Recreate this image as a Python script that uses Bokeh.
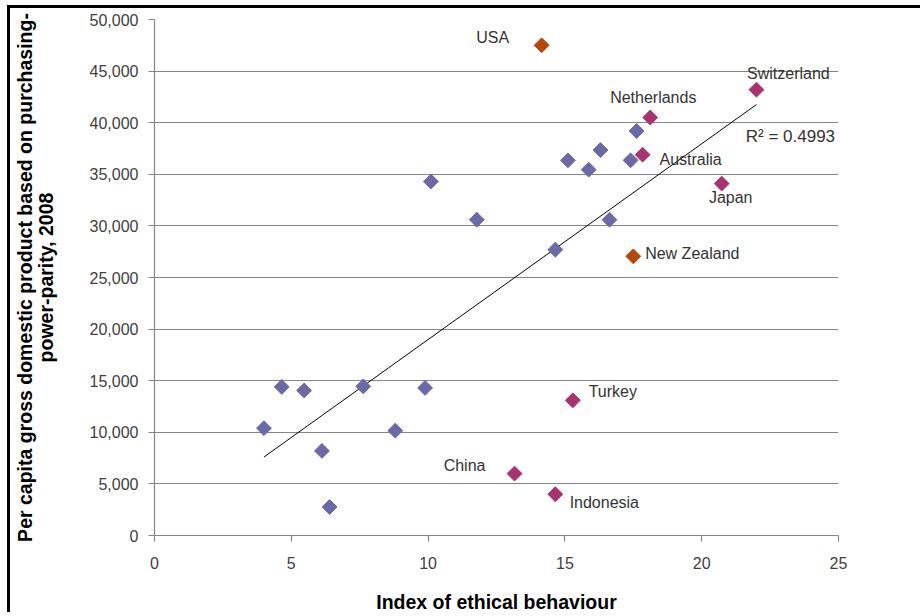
import numpy as np
from bokeh.plotting import figure
from bokeh.models import Range1d, Label, NumeralTickFormatter, FixedTicker
from bokeh.embed import file_html
from bokeh.resources import INLINE

# ---- data ----
other_x = [4.0, 4.65, 5.47, 6.12, 6.4, 7.63, 8.8, 9.89, 10.1, 11.78, 14.65, 15.11, 15.87, 16.3, 16.63, 17.4, 17.62]
other_y = [10400, 14400, 14050, 8200, 2760, 14450, 10160, 14300, 34300, 30600, 27700, 36350, 35450, 37350, 30600, 36350, 39200]

magenta_names = ["Switzerland", "Netherlands", "Australia", "Japan", "Turkey", "China", "Indonesia"]
magenta_x = [22.0, 18.12, 17.84, 20.73, 15.29, 13.16, 14.65]
magenta_y = [43200, 40500, 36900, 34100, 13100, 6000, 4000]

orange_names = ["USA", "New Zealand"]
orange_x = [14.15, 17.5]
orange_y = [47500, 27050]

x_ticks = [0, 5, 10, 15, 20, 25]
y_ticks = [0, 5000, 10000, 15000, 20000, 25000, 30000, 35000, 40000, 45000, 50000]
r2_text = "R\u00b2 = 0.4993"

# label offsets in screen pixels (dx, dy up)
label_offsets = {
    "USA": (-49, 8), "New Zealand": (59, 3),
    "Switzerland": (32, 16), "Netherlands": (3, 20), "Australia": (48, -5),
    "Japan": (9, -14), "Turkey": (40, 9), "China": (-50, 8), "Indonesia": (49, -8),
}

FONT = "Liberation Sans"
BLUE = "#6A6AA6"
MAGENTA = "#A8336E"
ORANGE = "#B5470E"

p = figure(width=913, height=607, output_backend="svg", toolbar_location=None,
           x_range=Range1d(0, 25), y_range=Range1d(0, 50000),
           min_border_left=143, min_border_top=11, min_border_right=85, min_border_bottom=70)
p.styles = {"margin-left": "10px", "margin-top": "8px", "vertical-align": "top",
            "margin-bottom": "-14px", "box-shadow": "-3px -3px 0px 0px black"}
p.outline_line_color = None
p.background_fill_color = "white"
p.border_fill_color = "white"

p.xgrid.grid_line_color = None
p.ygrid.grid_line_color = "#858585"
p.ygrid.grid_line_width = 1.2

p.xaxis.ticker = FixedTicker(ticks=x_ticks)
p.yaxis.ticker = FixedTicker(ticks=y_ticks)
p.yaxis.formatter = NumeralTickFormatter(format="0,0")
for ax in (p.xaxis, p.yaxis):
    ax.axis_line_color = "#858585"
    ax.axis_line_width = 1.2
    ax.major_tick_line_color = "#858585"
    ax.major_tick_line_width = 1.2
    ax.major_tick_out = 6
    ax.major_tick_in = 0
    ax.minor_tick_line_color = None
    ax.major_label_text_font = FONT
    ax.major_label_text_font_size = "16px"
    ax.major_label_text_color = "#404040"
    ax.axis_label_text_font = FONT
    ax.axis_label_text_font_style = "bold"
    ax.axis_label_text_color = "black"
    ax.axis_label_text_line_height = 0.95

p.xaxis.axis_label = "Index of ethical behaviour"
p.xaxis.axis_label_text_font_size = "19.5px"
p.xaxis.major_label_standoff = 15
p.xaxis.axis_label_standoff = 19
p.yaxis.axis_label = "Per capita gross domestic product based on purchasing-\npower-parity, 2008"
p.yaxis.axis_label_text_font_size = "19.5px"
p.yaxis.major_label_standoff = 10
p.yaxis.axis_label_standoff = 30

# trend line (least squares over all points)
all_x = np.array(other_x + magenta_x + orange_x)
all_y = np.array(other_y + magenta_y + orange_y)
slope, intercept = np.polyfit(all_x, all_y, 1)
tx = np.array([all_x.min(), all_x.max()])
p.line(tx, slope * tx + intercept, line_color="black", line_width=1)

MS = 10.5
p.scatter(other_x, other_y, marker="square", angle=np.pi / 4, size=MS,
          fill_color=BLUE, line_color=BLUE)
p.scatter(magenta_x, magenta_y, marker="square", angle=np.pi / 4, size=MS,
          fill_color=MAGENTA, line_color=MAGENTA)
p.scatter(orange_x, orange_y, marker="square", angle=np.pi / 4, size=MS,
          fill_color=ORANGE, line_color=ORANGE)

for names, xs, ys in ((magenta_names, magenta_x, magenta_y), (orange_names, orange_x, orange_y)):
    for n, x, y in zip(names, xs, ys):
        dx, dy = label_offsets[n]
        p.add_layout(Label(x=x, y=y, x_offset=dx, y_offset=dy, text=n,
                           text_align="center", text_baseline="middle",
                           text_font=FONT, text_font_size="16px", text_color="#333333"))

p.add_layout(Label(x=tx[1], y=slope * tx[1] + intercept, x_offset=34, y_offset=-32,
                   text=r2_text, text_align="center", text_baseline="middle",
                   text_font=FONT, text_font_size="17px", text_color="#333333"))

open("out.html", "w").write(file_html(p, INLINE))
